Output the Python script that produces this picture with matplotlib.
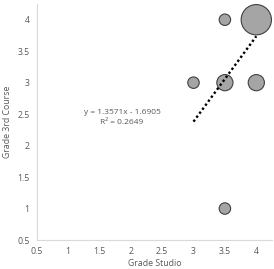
import matplotlib
matplotlib.use("Agg")
import matplotlib.pyplot as plt
import numpy as np

grade_studio = [3.5, 4.0, 3.0, 3.5, 4.0, 3.5]
grade_3rd = [4.0, 4.0, 3.0, 3.0, 3.0, 1.0]
counts = [1, 7, 1, 2, 2, 1]
slope = 1.3571
intercept = -1.6905
r2 = 0.2649
trend_x = [3.0, 4.0]
xticks = [0.5, 1, 1.5, 2, 2.5, 3, 3.5, 4]
yticks = [0.5, 1, 1.5, 2, 2.5, 3, 3.5, 4]

plt.rcParams['font.family'] = ['Open Sans', 'DejaVu Sans']
fig = plt.figure(figsize=(2.74, 2.69), dpi=100)
ax = fig.add_axes([36.5/274, 29/269, 235.5/274, 236/269])

ax.scatter(grade_studio, grade_3rd, s=np.array(counts) * 68, color='#a5a5a5',
           edgecolor='#404040', linewidth=0.8, zorder=2)
tx = np.array(trend_x)
ax.plot(tx, slope * tx + intercept, color='black', linestyle=(0, (1, 1.1)),
        linewidth=1.7, zorder=3)

ax.text(1.86, 2.45, f"y = {slope}x - {abs(intercept)}\nR² = {r2}", ha='center',
        va='center', fontsize=6, color='#595959', linespacing=1.7)

ax.set_xlim(0.5, 4.25)
ax.set_ylim(0.5, 4.25)
ax.set_xticks(xticks)
ax.set_yticks(yticks)
ax.set_xticklabels([f"{t:g}" for t in xticks])
ax.set_yticklabels([f"{t:g}" for t in yticks])
ax.tick_params(length=0, labelsize=6.3, colors='#595959', pad=5)
for s in ['top', 'right']:
    ax.spines[s].set_visible(False)
for s in ['left', 'bottom']:
    ax.spines[s].set_color('#d9d9d9')
    ax.spines[s].set_linewidth(0.8)
ax.set_xlabel('Grade Studio', fontsize=6.3, color='#595959', labelpad=2)
ax.set_ylabel('Grade 3rd Course', fontsize=6.3, color='#595959', labelpad=4)

fig.savefig('out.png', dpi=100)
